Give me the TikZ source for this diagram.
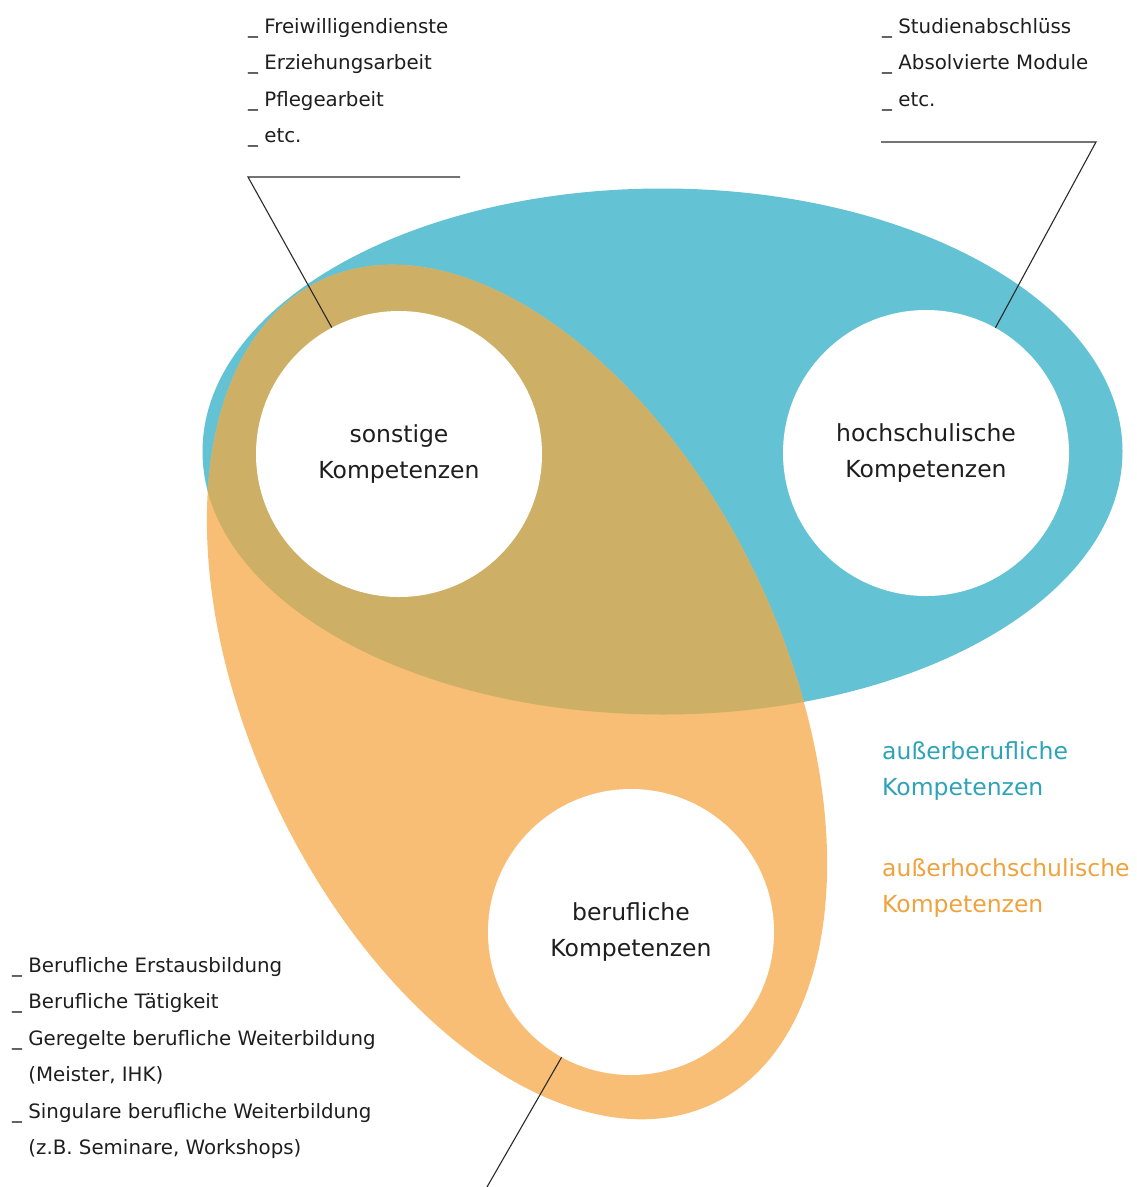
\documentclass[tikz,border=0pt]{standalone}
\usepackage{fontspec}
\setmainfont{DejaVu Sans}
\definecolor{cblue}{HTML}{63C2D3}
\definecolor{corange}{HTML}{F8BE75}
\definecolor{cbrown}{HTML}{CDAF66}
\definecolor{tblue}{HTML}{2EA3B8}
\definecolor{torange}{HTML}{EFA23D}
\definecolor{txt}{HTML}{1E1E1E}
\definecolor{linec}{HTML}{2A2A2A}
\newcommand\fsz{\fontsize{23.5}{36.5}\selectfont}
\newcommand\fsl{\fontsize{19.8}{36.5}\selectfont}
\begin{document}
\begin{tikzpicture}[x=1pt,y=1pt,
  circ/.style={circle, fill=white, minimum size=286pt, inner sep=0pt, align=center, font=\fsz, text=txt},
  lst/.style={anchor=base west, inner sep=0pt, align=left, font=\fsl, text=txt},
  lbl/.style={anchor=base west, inner sep=0pt, align=left, font=\fsz},
  lead/.style={draw=linec, line width=1.1pt},
  blob/.style={rotate around={-64.5:(517,-692)}}]
\useasboundingbox (0,0) rectangle (1137,-1187);
% ellipses
\fill[cblue] (662.5,-451.5) ellipse [x radius=460pt, y radius=263pt];
\fill[corange, blob] (517,-692) ellipse [x radius=456pt, y radius=266pt];
\begin{scope}
  \clip (662.5,-451.5) ellipse [x radius=460pt, y radius=263pt];
  \fill[cbrown, blob] (517,-692) ellipse [x radius=456pt, y radius=266pt];
\end{scope}
% circles
\node[circ] (s) at (399,-454) {sonstige\\Kompetenzen};
\node[circ] (h) at (926,-453) {hochschulische\\Kompetenzen};
\node[circ] (b) at (631,-932) {berufliche\\Kompetenzen};
% lists (base = last line)
\node[lst] (l1) at (248,-142.5) {\_ Freiwilligendienste\\\_ Erziehungsarbeit\\\_ Pflegearbeit\\\_ etc.};
\node[lst] (l2) at (882,-106) {\_ Studienabschlüss\\\_ Absolvierte Module\\\_ etc.};
\node[lst] (l3) at (12,-1154.5) {\_ Berufliche Erstausbildung\\\_ Berufliche Tätigkeit\\\_ Geregelte berufliche Weiterbildung\\\phantom{\_ }(Meister, IHK)\\\_ Singulare berufliche Weiterbildung\\\phantom{\_ }(z.B. Seminare, Workshops)};
\node[lbl, text=tblue] (k1) at (882,-795.5) {außerberufliche\\Kompetenzen};
\node[lbl, text=torange] (k2) at (882,-912.5) {außerhochschulische\\Kompetenzen};
% leaders
\coordinate (a1) at (248,-177);
\coordinate (a2) at (460,-177);
\coordinate (b1) at (1096,-142);
\coordinate (b2) at (881,-142);
\coordinate (c1) at (487,-1187);
\draw[lead] (s.118.5) -- (a1) -- (a2);
\draw[lead] (h.61.3) -- (b1) -- (b2);
\draw[lead] (b.241) -- (c1);
\end{tikzpicture}
\end{document}
